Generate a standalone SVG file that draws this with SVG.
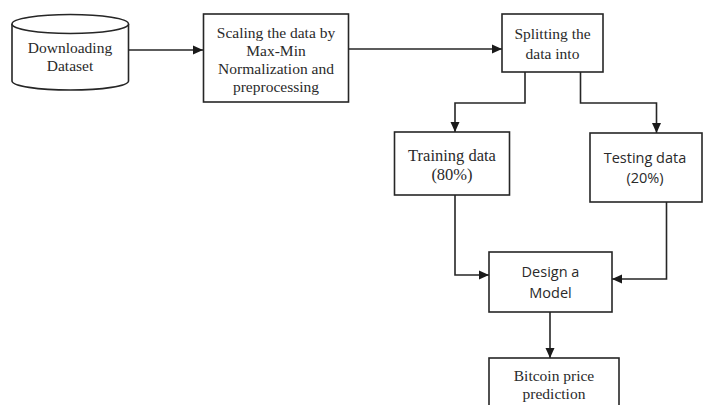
<svg xmlns="http://www.w3.org/2000/svg" width="703" height="405" viewBox="0 0 703 405">
<defs>
<marker id="ah" viewBox="0 0 10 10" refX="10" refY="5" markerWidth="10" markerHeight="10" markerUnits="userSpaceOnUse" orient="auto">
<path d="M0,0.5 L10,5 L0,9.5 Z" fill="#1a1a1a"/>
</marker>
<style>
.box{fill:#fff;stroke:#262626;stroke-width:1.6}
.ser{font-family:"Liberation Serif","Times New Roman",serif;font-size:15.5px;fill:#2a2a2a;text-anchor:middle}
.big{font-size:16.5px}
.san{font-family:"Open Sans","Liberation Sans",sans-serif;font-size:14.5px;fill:#2a2a2a;text-anchor:middle}
.ln{fill:none;stroke:#262626;stroke-width:1.6}
</style>
</defs>
<rect width="703" height="405" fill="#fff"/>
<g id="connectors">
<path class="ln" d="M128.5,50 H203" marker-end="url(#ah)"/>
<path class="ln" d="M349,49 H502" marker-end="url(#ah)"/>
<path class="ln" d="M525,72 V103 H455 V132" marker-end="url(#ah)"/>
<path class="ln" d="M580.5,72 V103 H656.5 V133" marker-end="url(#ah)"/>
<path class="ln" d="M455,195 V275 H489" marker-end="url(#ah)"/>
<path class="ln" d="M666.5,202 V279 H612" marker-end="url(#ah)"/>
<path class="ln" d="M550,312 V358" marker-end="url(#ah)"/>
</g>
<g id="download">
<path class="box" d="M12,24 V81 A58,9 0 0 0 128.5,81 V24"/>
<ellipse class="box" cx="70.25" cy="24" rx="58.25" ry="9.5"/>
<text class="ser" x="70" y="53">Downloading</text>
<text class="ser" x="70" y="71">Dataset</text>
</g>
<g id="scaling">
<rect class="box" x="203.5" y="14" width="145" height="88"/>
<text class="ser" x="276" y="38">Scaling the data by</text>
<text class="ser" x="276" y="56">Max-Min</text>
<text class="ser" x="276" y="74">Normalization and</text>
<text class="ser" x="276" y="92">preprocessing</text>
</g>
<g id="splitting">
<rect class="box" x="502" y="14" width="101" height="58"/>
<text class="ser" x="552.5" y="39">Splitting the</text>
<text class="ser" x="552.5" y="59">data into</text>
</g>
<g id="training">
<rect class="box" x="394.5" y="132" width="115" height="63"/>
<text class="ser big" x="452" y="161">Training data</text>
<text class="ser big" x="452" y="180">(80%)</text>
</g>
<g id="testing">
<rect class="box" x="590" y="133" width="112" height="69"/>
<text class="san" x="645" y="163">Testing data</text>
<text class="san" x="645" y="183">(20%)</text>
</g>
<g id="design">
<rect class="box" x="489" y="252" width="123" height="60"/>
<text class="san" x="550.5" y="277">Design a</text>
<text class="san" x="550.5" y="298">Model</text>
</g>
<g id="bitcoin">
<rect class="box" x="489" y="358" width="130" height="60"/>
<text class="ser" x="554" y="381">Bitcoin price</text>
<text class="ser" x="554" y="399">prediction</text>
</g>
</svg>
